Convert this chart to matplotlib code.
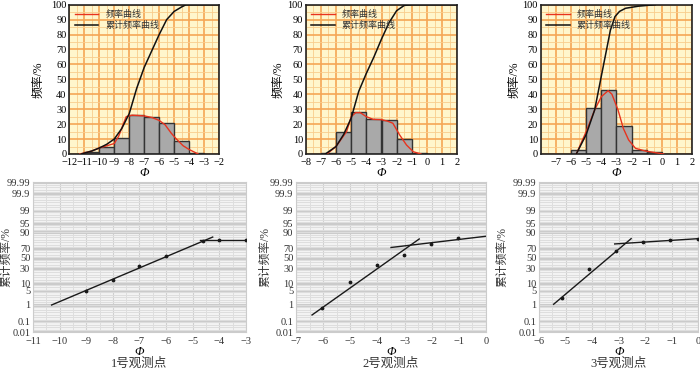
import numpy as np
import matplotlib
matplotlib.use('Agg')
import matplotlib.pyplot as plt
from matplotlib.ticker import FixedLocator

plt.rcParams['font.family'] = ['Liberation Serif', 'Noto Sans CJK SC']
plt.rcParams['axes.unicode_minus'] = True

# ---- 上排：频率直方图 + 曲线 ----
# 1号观测点
bins1 = [-11, -10, -9, -8, -7, -6, -5, -4]
freq1 = [1.5, 4.7, 10.8, 25.8, 24.9, 20.6, 8.8, 0.8]
red1_x = [-11.3, -10.5, -10, -9.5, -9, -8.7, -8.4, -8.2, -7.8, -7, -6.5, -6, -5.6, -5.2, -4.85, -4.4, -4, -3.4]
red1_y = [0, 2, 4, 5.5, 7, 12, 20, 25, 26, 25.5, 24.5, 22.5, 19.5, 14, 10, 5.5, 3, 0]
cum1_x = [-11.2, -10.5, -10, -9.5, -9, -8.5, -8, -7.5, -7, -6.5, -6, -5.5, -5, -4.5, -4.2, -2]
cum1_y = [0, 2, 4, 6.5, 10, 17, 27, 44, 58, 69, 80, 90, 95.5, 98.5, 100, 100]

# 2号观测点
bins2 = [-7, -6, -5, -4, -3, -2, -1]
freq2 = [0.6, 15, 28, 23.5, 22.5, 10, 0.5]
red2_x = [-6.6, -6, -5.3, -5, -4.7, -4.4, -4, -3.55, -3, -2.6, -2.25, -1.8, -1.35, -0.9, -0.4]
red2_y = [0, 5, 15, 25, 27.7, 27.7, 25, 23.2, 23, 22, 20.6, 12.7, 6, 1.5, 0]
cum2_x = [-6.7, -6, -5.5, -5, -4.5, -4, -3.5, -3, -2.5, -2, -1.5, -1, 2]
cum2_y = [0, 5, 13, 24, 42, 54, 65, 77, 88, 96, 99.5, 100, 100]

# 3号观测点
bins3 = [-6, -5, -4, -3, -2, -1]
freq3 = [3, 31, 43, 18.5, 3, 1.2]
red3_x = [-5.65, -5, -4.44, -4, -3.55, -3.3, -2.9, -2.55, -2.2, -1.75, -1.1, -0.5, 0.1]
red3_y = [0, 15, 29.5, 38.4, 42.4, 40, 29.5, 17.2, 9.4, 3.8, 2, 1, 0]
cum3_x = [-5.65, -5, -4.44, -4.1, -3.75, -3.4, -3.1, -2.8, -2.4, -1.55, -0.45]
cum3_y = [0, 13, 29.5, 47, 65, 83, 92, 95.5, 97.6, 99, 100]

top_xlims = [(-12, -2), (-8, 2), (-8, 2)]
top_xticks = [list(range(-12, -1)), list(range(-8, 3)), list(range(-7, 3))]

# ---- 下排：概率累计曲线 ----
prob_ticks = [0.01, 0.1, 1, 5, 10, 30, 50, 70, 90, 95, 99, 99.9, 99.99]
prob_labels = ['0.01', '0.1', '1', '5', '10', '30', '50', '70', '90', '95', '99', '99.9', '99.99']
prob_pos = [0, 0.075, 0.182, 0.277, 0.327, 0.427, 0.497, 0.56, 0.667, 0.722, 0.811, 0.922, 1.0]

lineA1_x = [-10.3, -4.25]; lineA1_y = [1.0, 84]
lineB1_x = [-4.72, -3]; lineB1_y = [80, 80]
dots1_x = [-9, -8, -7, -6, -4.62, -4, -3]
dots1_y = [5, 14, 35, 54, 79, 80, 80]

lineA2_x = [-6.41, -2.46]; lineA2_y = [0.44, 81.6]
lineB2_x = [-3.5, 0]; lineB2_y = [71, 85]
dots2_x = [-6.03, -5.02, -4.02, -3.04, -2.03, -1.04]
dots2_y = [0.81, 12, 36, 56, 75, 83]

lineA3_x = [-5.45, -2.53]; lineA3_y = [1.2, 82]
lineB3_x = [-3.15, 0]; lineB3_y = [75.4, 82]
dots3_x = [-5.13, -4.12, -3.1, -2.07, -1.06, -0.03]
dots3_y = [3.1, 28.6, 64.3, 78.2, 80.3, 82]

bot_xlims = [(-11, -3), (-7, 0), (-6, 0)]
titles = ['1号观测点', '2号观测点', '3号观测点']


def fwd(v):
    return np.interp(v, prob_ticks, prob_pos)


def inv(t):
    return np.interp(t, prob_pos, prob_ticks)


fig = plt.figure(figsize=(7, 3.69), dpi=100)

top_rects = [[0.099, 0.5827, 0.214, 0.4046],
             [0.4367, 0.5827, 0.2166, 0.4046],
             [0.7724, 0.5827, 0.2166, 0.4046]]
top_ylab_x = [-0.165, -0.14, -0.135]
top_data = [(bins1, freq1, red1_x, red1_y, cum1_x, cum1_y),
            (bins2, freq2, red2_x, red2_y, cum2_x, cum2_y),
            (bins3, freq3, red3_x, red3_y, cum3_x, cum3_y)]

for i, rect in enumerate(top_rects):
    ax = fig.add_axes(rect)
    bins, freq, rx, ry, cx, cy = top_data[i]
    ax.set_facecolor('#fff6cc')
    ax.set_xlim(*top_xlims[i])
    ax.set_ylim(0, 100)
    ax.set_xticks(top_xticks[i])
    ax.set_yticks(range(0, 101, 10))
    ax.set_xticks(np.arange(top_xlims[i][0], top_xlims[i][1], 0.5), minor=True)
    ax.set_yticks(range(0, 101, 5), minor=True)
    ax.grid(True, which='major', color='#f5a655', lw=1.2)
    ax.grid(True, which='minor', color='#f9cd8c', lw=0.6)
    ax.set_axisbelow(True)
    ax.bar(bins, freq, width=1, align='edge', color='#a9a9a9',
           edgecolor='#333333', lw=1, zorder=2)
    ax.plot(rx, ry, color='#e8331e', lw=1, zorder=3, label='频率曲线')
    ax.plot(cx, cy, color='#111111', lw=1.1, zorder=3, label='累计频率曲线')
    ax.tick_params(which='both', length=0, labelsize=7.5, pad=2)
    ax.tick_params(axis='x', pad=3)
    for s in ax.spines.values():
        s.set_linewidth(1.2)
        s.set_color('#222222')
    ax.set_ylabel('频率/%', fontsize=8.5)
    ax.yaxis.set_label_coords(top_ylab_x[i], 0.5)
    ax.set_xlabel('Φ', fontsize=9, style='italic', labelpad=0)
    leg = ax.legend(loc='upper left', frameon=False, fontsize=6.5,
                    handlelength=2.6, borderaxespad=0.2, labelspacing=0.25)
    for t in leg.get_texts():
        t.set_color('#333333')

bot_rects = [[0.0471, 0.0995, 0.3043, 0.4065],
             [0.4229, 0.0995, 0.2714, 0.4065],
             [0.77, 0.0995, 0.2276, 0.4065]]
bot_ylab_x = [-0.095, -0.128, -0.19]
bot_data = [(lineA1_x, lineA1_y, lineB1_x, lineB1_y, dots1_x, dots1_y),
            (lineA2_x, lineA2_y, lineB2_x, lineB2_y, dots2_x, dots2_y),
            (lineA3_x, lineA3_y, lineB3_x, lineB3_y, dots3_x, dots3_y)]

for i, rect in enumerate(bot_rects):
    ax = fig.add_axes(rect)
    ax_x, ax_y, bx, by, dx, dy = bot_data[i]
    ax.set_facecolor('#f3f3f3')
    ax.set_yscale('function', functions=(fwd, inv))
    ax.set_xlim(*bot_xlims[i])
    ax.set_ylim(0.01, 99.99)
    ax.yaxis.set_major_locator(FixedLocator(prob_ticks))
    ax.set_yticklabels(prob_labels)
    ax.yaxis.set_minor_locator(FixedLocator(inv(np.linspace(0, 1, 61))))
    ax.set_xticks(range(bot_xlims[i][0], bot_xlims[i][1] + 1))
    ax.set_xticks(np.arange(bot_xlims[i][0], bot_xlims[i][1], 0.5), minor=True)
    ax.grid(True, which='minor', color='#dedede', lw=0.7)
    ax.grid(True, which='major', axis='y', color='#cbcbcb', lw=2.2)
    ax.grid(True, which='major', axis='x', color='#d0d0d0', lw=0.8)
    ax.set_axisbelow(True)
    ax.plot(ax_x, ax_y, color='#1a1a1a', lw=1)
    ax.plot(bx, by, color='#1a1a1a', lw=1)
    ax.scatter(dx, dy, s=3, color='#1a1a1a', zorder=3)
    ax.tick_params(which='both', length=0, labelsize=7.5, pad=2, colors='#333333')
    ax.tick_params(axis='x', pad=3.5)
    for s in ax.spines.values():
        s.set_color('#cccccc')
        s.set_linewidth(0.8)
    ax.set_ylabel('累计频率/%', fontsize=8.5, color='#333333')
    ax.yaxis.set_label_coords(bot_ylab_x[i], 0.5)
    ax.set_xlabel('Φ', fontsize=9, style='italic', labelpad=0)
    fig.text(rect[0] + rect[2] * 0.5, 0.014, titles[i],
             ha='center', va='center', fontsize=9, color='#333333')

fig.savefig('out.png', dpi=100)
